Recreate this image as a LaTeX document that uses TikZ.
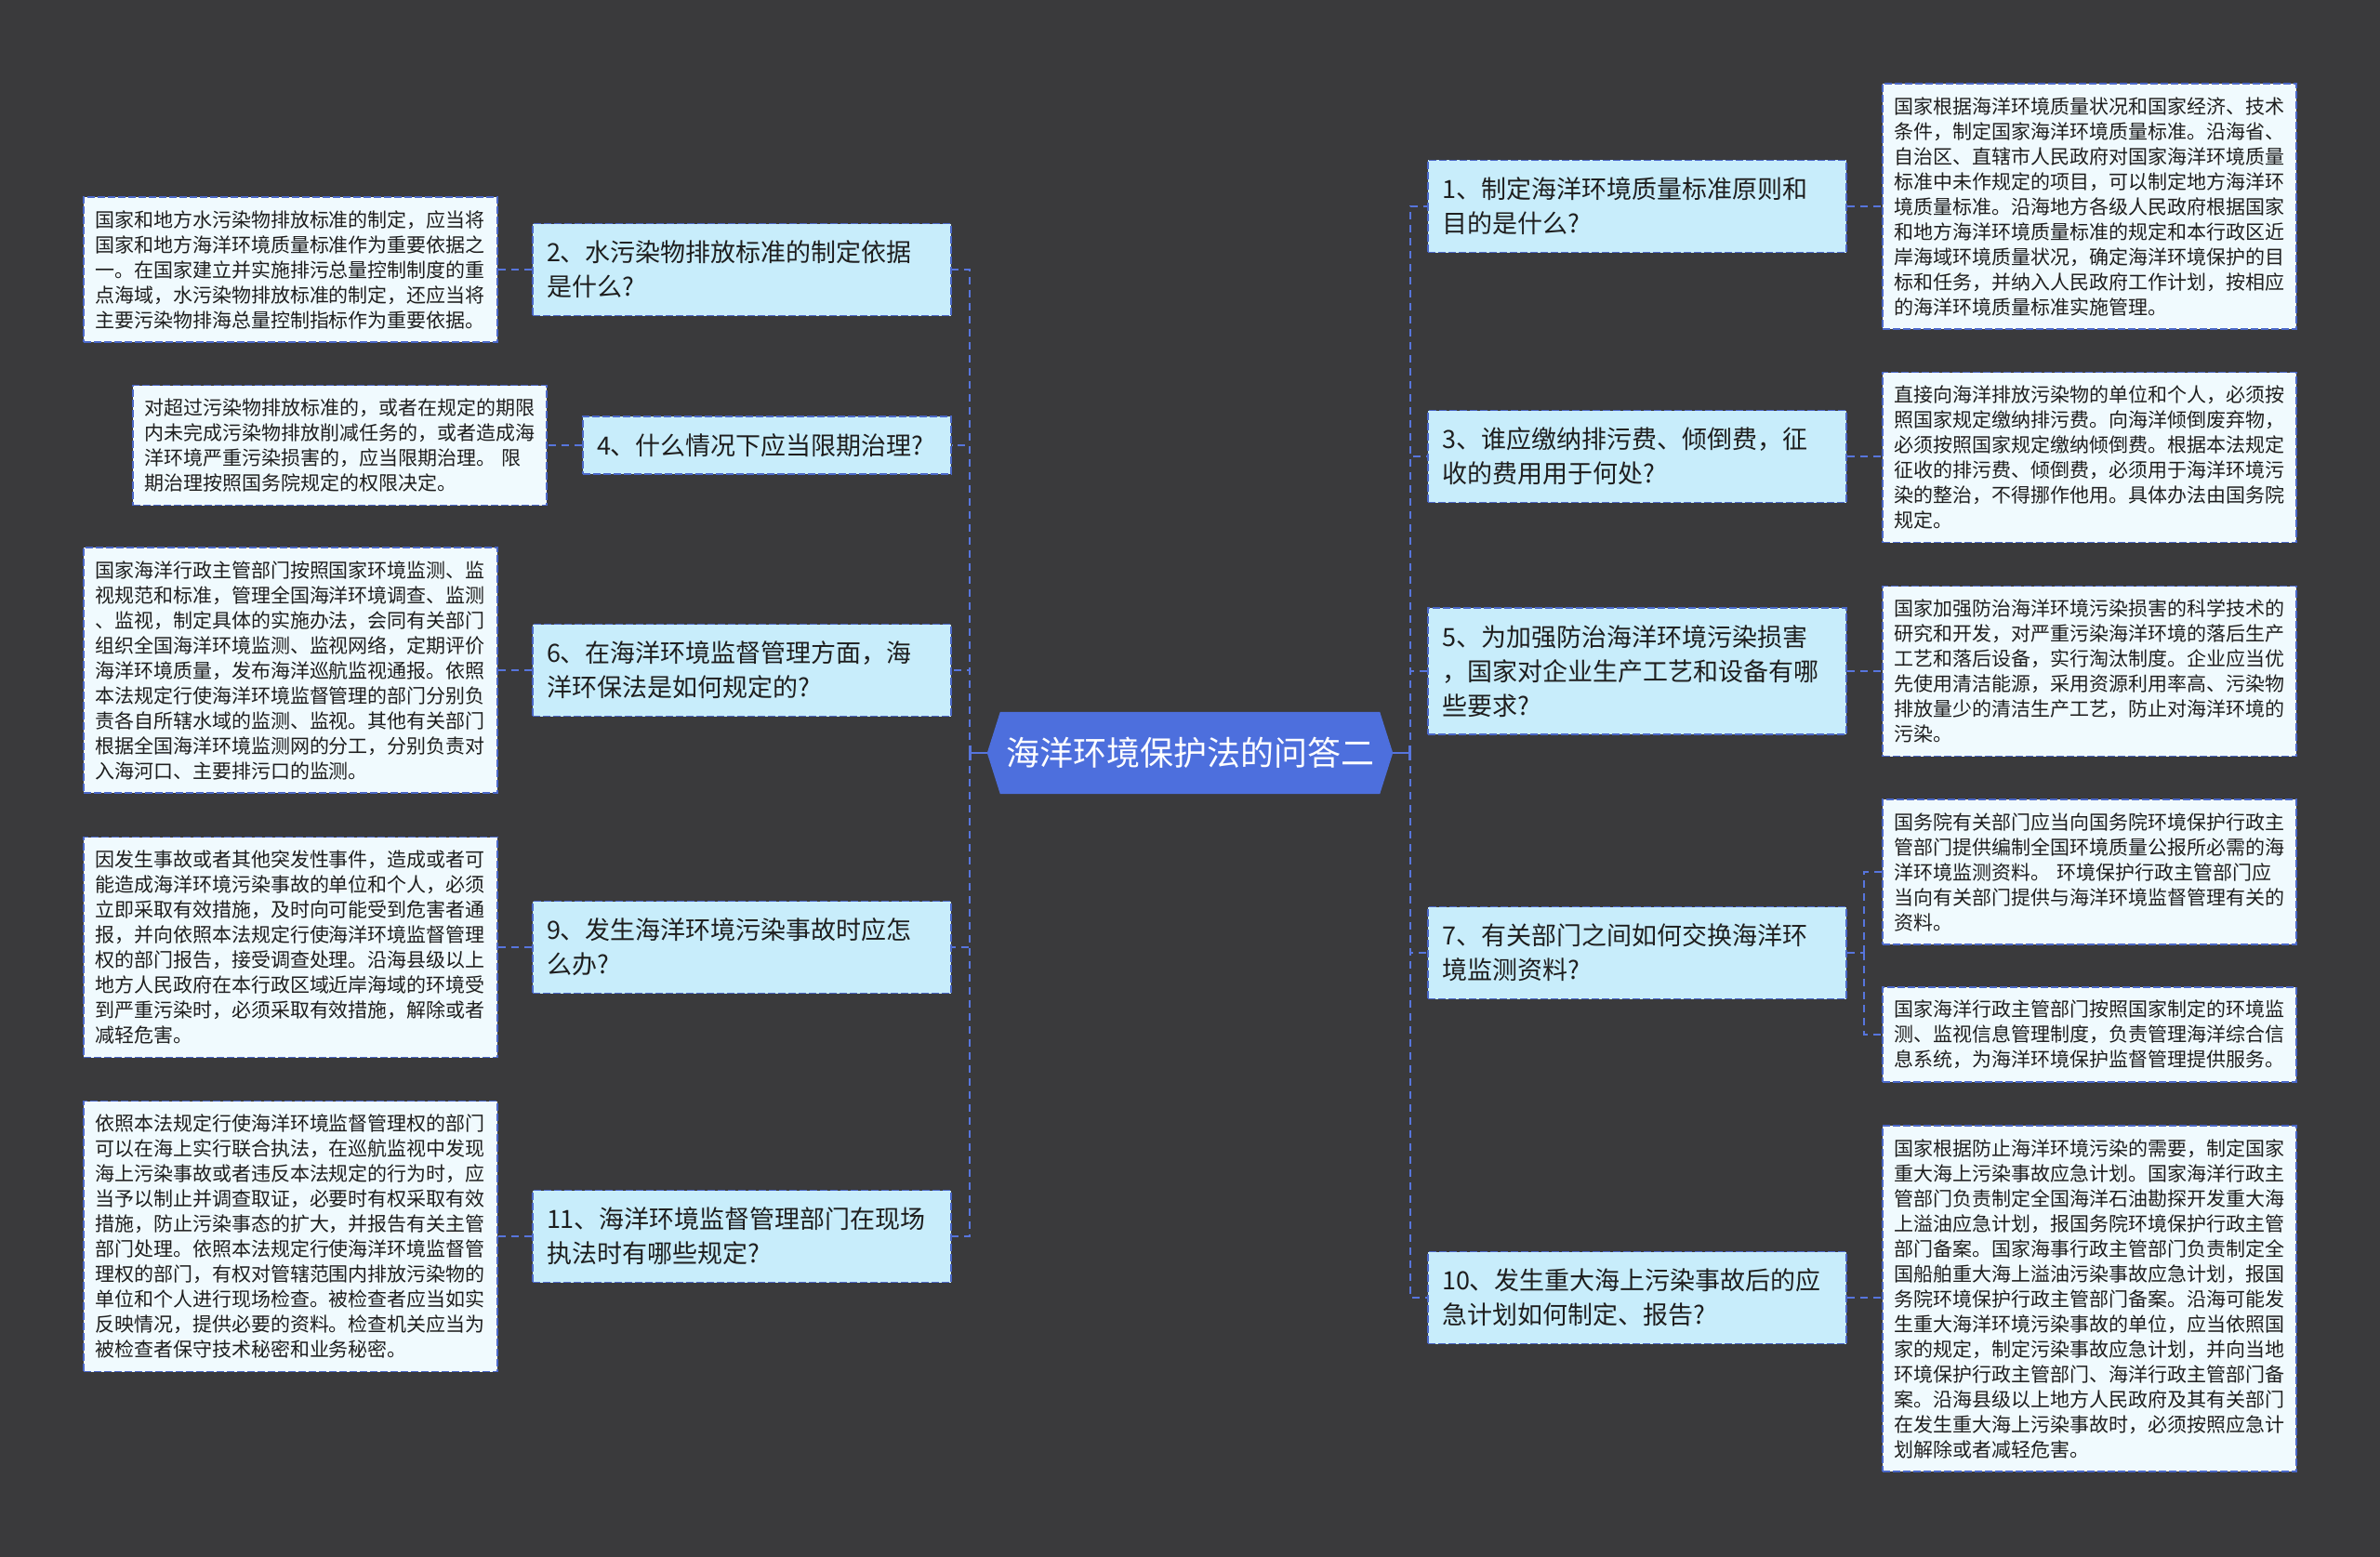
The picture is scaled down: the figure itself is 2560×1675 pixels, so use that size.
\documentclass[tikz,border=0pt]{standalone}
\usepackage{fontspec}
\setmainfont{Noto Sans CJK SC}
\usetikzlibrary{arrows.meta}
\pgfdeclarelayer{bglayer}
\pgfdeclarelayer{background}
\pgfsetlayers{bglayer,background,main}
\definecolor{bgc}{HTML}{3A3A3C}
\definecolor{qfill}{HTML}{C8EDFB}
\definecolor{lfill}{HTML}{F0FAFE}
\definecolor{bord}{HTML}{4A67C8}
\definecolor{rootc}{HTML}{4D6FDD}
\definecolor{linkc}{HTML}{5775DD}
\definecolor{txt}{HTML}{1E1E1E}
\tikzset{
  box/.style={draw=bord, line width=1.6pt, dash pattern=on 8pt off 3pt, rectangle, align=left, anchor=center, text=txt},
  ques/.style={box, fill=qfill, font=\fontsize{27}{37}\selectfont, inner xsep=15pt, inner ysep=0pt, text width=420pt},
  leaf/.style={box, fill=lfill, font=\fontsize{21}{27}\selectfont, inner xsep=12pt, inner ysep=0pt, text width=421pt},
  rootnode/.style={text=white, font=\fontsize{36}{44}\selectfont, minimum width=436pt, minimum height=88pt, inner sep=0pt, anchor=center},
  link/.style={draw=linkc, line width=2.8pt, dash pattern=on 8pt off 6pt},
  stem/.style={draw=linkc, line width=2.6pt, -{Bar[width=16pt,line width=2.4pt]}},
}
\begin{document}
\begin{tikzpicture}[x=1pt, y=-1pt]
\useasboundingbox (0,0) rectangle (2560,1675);
\begin{pgfonlayer}{bglayer}
\fill[bgc] (0,0) rectangle (2560,1675);
\end{pgfonlayer}

% root
\node[rootnode] (root) at (1280,810) {海洋环境保护法的问答二};
\begin{pgfonlayer}{background}
\fill[rootc] (root.west) -- ([xshift=14pt]root.north west) -- ([xshift=-14pt]root.north east) -- (root.east) -- ([xshift=-14pt]root.south east) -- ([xshift=14pt]root.south west) -- cycle;
\end{pgfonlayer}
\coordinate (cl) at (1043,810);
\coordinate (cr) at (1517,810);

% left questions
\node[ques, minimum height=99pt] (q2) at (798,290) {2、水污染物排放标准的制定依据\\是什么?};
\node[ques, text width=366pt, minimum height=62pt] (q4) at (825,479) {4、什么情况下应当限期治理?};
\node[ques, minimum height=99pt] (q6) at (798,721) {6、在海洋环境监督管理方面，海\\洋环保法是如何规定的?};
\node[ques, minimum height=99pt] (q9) at (798,1019) {9、发生海洋环境污染事故时应怎\\么办?};
\node[ques, minimum height=99pt] (q11) at (798,1330) {11、海洋环境监督管理部门在现场\\执法时有哪些规定?};

% right questions
\node[ques, minimum height=99pt] (q1) at (1761,222) {1、制定海洋环境质量标准原则和\\目的是什么?};
\node[ques, minimum height=99pt] (q3) at (1761,491) {3、谁应缴纳排污费、倾倒费，征\\收的费用用于何处?};
\node[ques, minimum height=136pt] (q5) at (1761,722) {5、为加强防治海洋环境污染损害\\，国家对企业生产工艺和设备有哪\\些要求?};
\node[ques, minimum height=99pt] (q7) at (1761,1025) {7、有关部门之间如何交换海洋环\\境监测资料?};
\node[ques, minimum height=99pt] (q10) at (1761,1396) {10、发生重大海上污染事故后的应\\急计划如何制定、报告?};

% left leaves
\node[leaf, minimum height=156pt] (l2) at (312.5,290) {国家和地方水污染物排放标准的制定，应当将\\国家和地方海洋环境质量标准作为重要依据之\\一。在国家建立并实施排污总量控制制度的重\\点海域，水污染物排放标准的制定，还应当将\\主要污染物排海总量控制指标作为重要依据。};
\node[leaf, minimum height=129pt] (l4) at (365.5,479) {对超过污染物排放标准的，或者在规定的期限\\内未完成污染物排放削减任务的，或者造成海\\洋环境严重污染损害的，应当限期治理。 限\\期治理按照国务院规定的权限决定。};
\node[leaf, minimum height=264pt] (l6) at (312.5,721) {国家海洋行政主管部门按照国家环境监测、监\\视规范和标准，管理全国海洋环境调查、监测\\、监视，制定具体的实施办法，会同有关部门\\组织全国海洋环境监测、监视网络，定期评价\\海洋环境质量，发布海洋巡航监视通报。依照\\本法规定行使海洋环境监督管理的部门分别负\\责各自所辖水域的监测、监视。其他有关部门\\根据全国海洋环境监测网的分工，分别负责对\\入海河口、主要排污口的监测。};
\node[leaf, minimum height=237pt] (l9) at (312.5,1019) {因发生事故或者其他突发性事件，造成或者可\\能造成海洋环境污染事故的单位和个人，必须\\立即采取有效措施，及时向可能受到危害者通\\报，并向依照本法规定行使海洋环境监督管理\\权的部门报告，接受调查处理。沿海县级以上\\地方人民政府在本行政区域近岸海域的环境受\\到严重污染时，必须采取有效措施，解除或者\\减轻危害。};
\node[leaf, minimum height=291pt] (l11) at (312.5,1330) {依照本法规定行使海洋环境监督管理权的部门\\可以在海上实行联合执法，在巡航监视中发现\\海上污染事故或者违反本法规定的行为时，应\\当予以制止并调查取证，必要时有权采取有效\\措施，防止污染事态的扩大，并报告有关主管\\部门处理。依照本法规定行使海洋环境监督管\\理权的部门，有权对管辖范围内排放污染物的\\单位和个人进行现场检查。被检查者应当如实\\反映情况，提供必要的资料。检查机关应当为\\被检查者保守技术秘密和业务秘密。};

% right leaves
\node[leaf, minimum height=264pt] (r1) at (2247.5,222) {国家根据海洋环境质量状况和国家经济、技术\\条件，制定国家海洋环境质量标准。沿海省、\\自治区、直辖市人民政府对国家海洋环境质量\\标准中未作规定的项目，可以制定地方海洋环\\境质量标准。沿海地方各级人民政府根据国家\\和地方海洋环境质量标准的规定和本行政区近\\岸海域环境质量状况，确定海洋环境保护的目\\标和任务，并纳入人民政府工作计划，按相应\\的海洋环境质量标准实施管理。};
\node[leaf, minimum height=183pt] (r3) at (2247.5,492) {直接向海洋排放污染物的单位和个人，必须按\\照国家规定缴纳排污费。向海洋倾倒废弃物，\\必须按照国家规定缴纳倾倒费。根据本法规定\\征收的排污费、倾倒费，必须用于海洋环境污\\染的整治，不得挪作他用。具体办法由国务院\\规定。};
\node[leaf, minimum height=183pt] (r5) at (2247.5,722) {国家加强防治海洋环境污染损害的科学技术的\\研究和开发，对严重污染海洋环境的落后生产\\工艺和落后设备，实行淘汰制度。企业应当优\\先使用清洁能源，采用资源利用率高、污染物\\排放量少的清洁生产工艺，防止对海洋环境的\\污染。};
\node[leaf, minimum height=156pt] (r7a) at (2247.5,938) {国务院有关部门应当向国务院环境保护行政主\\管部门提供编制全国环境质量公报所必需的海\\洋环境监测资料。 环境保护行政主管部门应\\当向有关部门提供与海洋环境监督管理有关的\\资料。};
\node[leaf, minimum height=102pt] (r7b) at (2247.5,1113) {国家海洋行政主管部门按照国家制定的环境监\\测、监视信息管理制度，负责管理海洋综合信\\息系统，为海洋环境保护监督管理提供服务。};
\node[leaf, minimum height=372pt] (r10) at (2247.5,1397) {国家根据防止海洋环境污染的需要，制定国家\\重大海上污染事故应急计划。国家海洋行政主\\管部门负责制定全国海洋石油勘探开发重大海\\上溢油应急计划，报国务院环境保护行政主管\\部门备案。国家海事行政主管部门负责制定全\\国船舶重大海上溢油污染事故应急计划，报国\\务院环境保护行政主管部门备案。沿海可能发\\生重大海洋环境污染事故的单位，应当依照国\\家的规定，制定污染事故应急计划，并向当地\\环境保护行政主管部门、海洋行政主管部门备\\案。沿海县级以上地方人民政府及其有关部门\\在发生重大海上污染事故时，必须按照应急计\\划解除或者减轻危害。};

% connectors root -> trunks
\draw[stem] (root.west) -- (cl);
\draw[stem] (root.east) -- (cr);
\foreach \q in {q2,q4,q6,q9,q11} { \draw[link] (cl) |- (\q.east); }
\foreach \q in {q1,q3,q5,q7,q10} { \draw[link] (cr) |- (\q.west); }

% question -> leaf
\draw[link] (q2.west) -- (l2.east |- q2.west);
\draw[link] (q4.west) -- (l4.east |- q4.west);
\draw[link] (q6.west) -- (l6.east |- q6.west);
\draw[link] (q9.west) -- (l9.east |- q9.west);
\draw[link] (q11.west) -- (l11.east |- q11.west);
\draw[link] (q1.east) -- (r1.west |- q1.east);
\draw[link] (q3.east) -- (r3.west |- q3.east);
\draw[link] (q5.east) -- (r5.west |- q5.east);
\draw[link] (q10.east) -- (r10.west |- q10.east);
\coordinate (b7) at (2005,1025);
\draw[link] (q7.east) -- (b7);
\draw[link] (b7) |- (r7a.west);
\draw[link] (b7) |- (r7b.west);
\end{tikzpicture}
\end{document}
